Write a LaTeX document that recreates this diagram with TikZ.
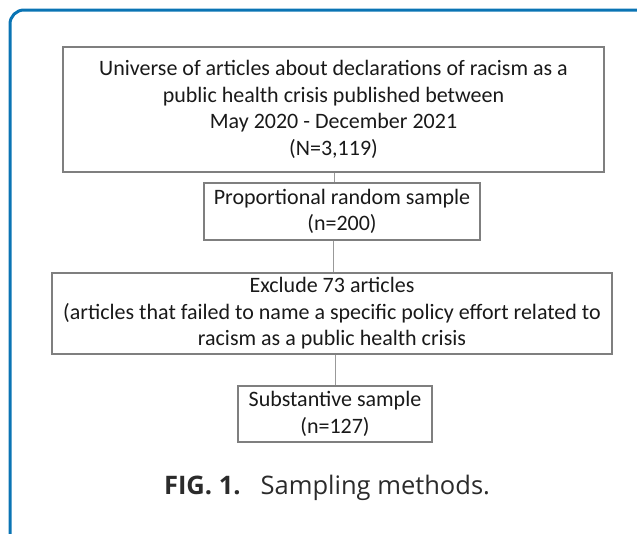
\documentclass[tikz,border=0pt]{standalone}
\usepackage{fontspec}
\setmainfont{Carlito}
\newfontfamily\captfont{Open Sans}
\definecolor{framblue}{HTML}{0A74B4}
\definecolor{boxgray}{HTML}{7F7F7F}
\definecolor{captgray}{HTML}{2B2B2B}
\begin{document}
\begin{tikzpicture}[x=1pt,y=-1pt,
  flowbox/.style={draw=boxgray,line width=1.3pt,align=center,inner sep=0pt,
    font=\fontsize{22}{26.5}\selectfont,text=black!90},
  link/.style={draw=boxgray!80,line width=1pt}]
\useasboundingbox (0,0) rectangle (637,533);
\begin{scope}
\clip (0,0) rectangle (637,533);
\draw[framblue,line width=3pt,rounded corners=14pt] (10,10) rectangle (660,548);
\end{scope}
\node[flowbox,minimum width=541pt,minimum height=125pt] (b1) at (333.5,109.5)
  {Universe of articles about declarations of racism as a\\public health crisis published between\\May 2020 - December 2021\\(N=3,119)};
\node[flowbox,minimum width=276pt,minimum height=57pt] (b2) at (342,211.5)
  {Proportional random sample\\(n=200)};
\node[flowbox,minimum width=560pt,minimum height=81pt] (b3) at (332,313.5)
  {Exclude 73 articles\\(articles that failed to name a specific policy effort related to\\racism as a public health crisis};
\node[flowbox,minimum width=194pt,minimum height=56pt] (b4) at (335,414)
  {Substantive sample\\(n=127)};
\node[font=\captfont\fontsize{25.5}{30}\selectfont,text=captgray,inner sep=0pt,anchor=base] (cap) at (327,494)
  {\textbf{FIG. 1.}\hspace{20pt}Sampling methods.};
\draw[link] ([xshift=0.5pt]b1.south) -- ([xshift=0.5pt]b1.south |- b2.north);
\draw[link] (b2.south -| b1.south) -- (b1.south |- b3.north);
\draw[link] ([xshift=3pt]b3.south) -- ([xshift=3pt]b3.south |- b4.north);
\end{tikzpicture}
\end{document}
